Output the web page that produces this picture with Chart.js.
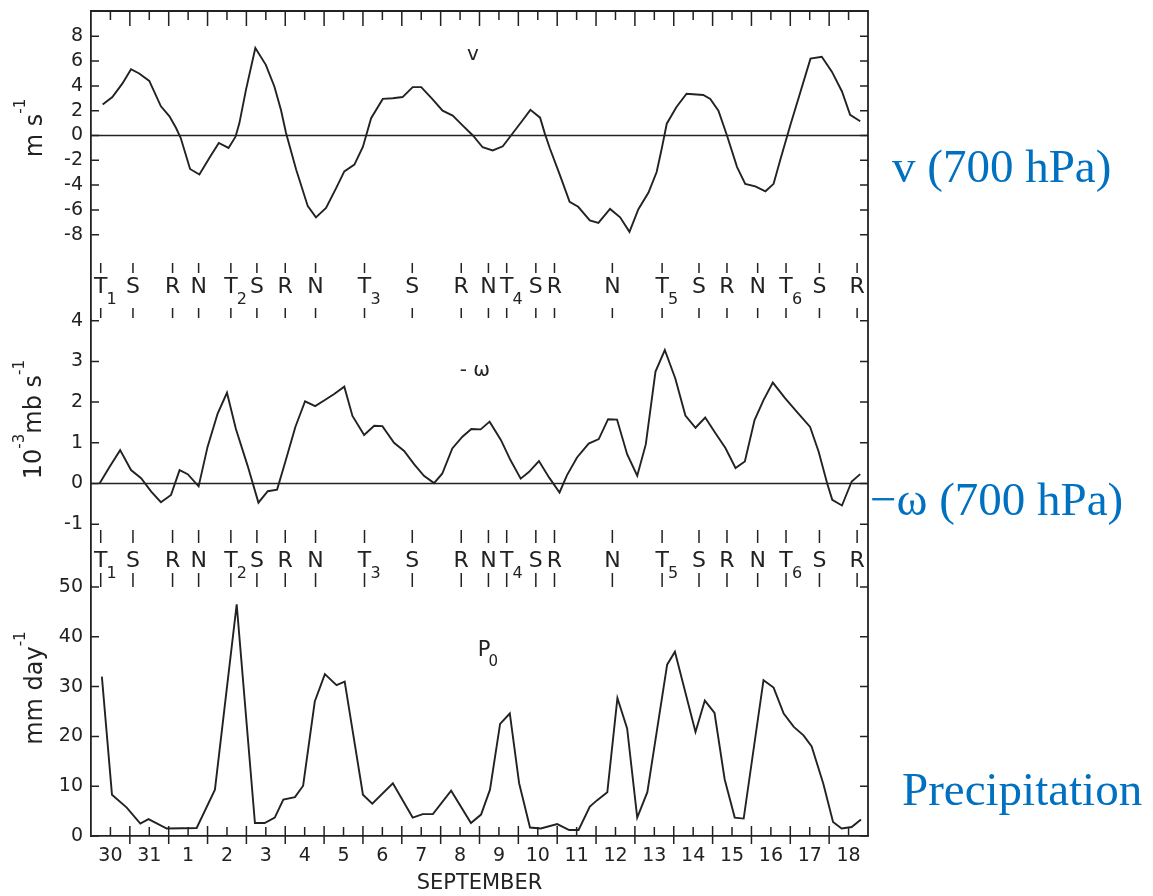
<!DOCTYPE html>
<html>
<head>
<meta charset="utf-8">
<script src="https://cdn.jsdelivr.net/npm/chart.js@4.4.1/dist/chart.umd.min.js"></script>
<style>
  html, body { margin: 0; padding: 0; background: #ffffff; }
  #wrap { position: relative; width: 1153px; height: 896px; }
</style>
</head>
<body>
<div id="wrap"><canvas id="chart" width="1153" height="896"></canvas></div>
<script>
// Time axis: days counted from 30 Aug 00Z; one label per day, centred at 12Z
const dayLabels = ['30','31','1','2','3','4','5','6','7','8','9','10','11','12','13','14','15','16','17','18'];

// Meridional wind v at 700 hPa (m s-1)
const vDays = [0.30,0.55,0.81,1.03,1.24,1.50,1.80,2.02,2.19,2.31,2.55,2.79,3.05,3.29,3.54,3.72,3.82,3.99,4.23,4.50,
  4.72,4.89,5.02,5.28,5.58,5.79,6.05,6.31,6.52,6.78,7.00,7.21,7.51,7.77,8.02,8.28,8.50,8.80,9.05,9.31,
  9.57,9.83,10.08,10.34,10.60,10.86,11.12,11.31,11.56,11.68,11.81,12.07,12.32,12.54,12.84,13.06,13.36,13.62,13.86,14.09,
  14.35,14.56,14.69,14.82,15.07,15.33,15.76,15.94,16.15,16.37,16.63,16.84,17.10,17.36,17.57,17.75,18.00,18.26,18.52,18.81,
  19.07,19.33,19.54,19.80];
const vWind = [2.5,3.1,4.2,5.35,5.0,4.4,2.35,1.55,0.6,-0.2,-2.7,-3.15,-1.8,-0.6,-1.0,-0.1,1.0,3.7,7.05,5.7,
  3.95,2.05,0.2,-2.75,-5.7,-6.6,-5.85,-4.25,-2.9,-2.35,-0.9,1.4,2.95,3.0,3.1,3.9,3.9,2.9,2.0,1.6,
  0.8,0.0,-0.95,-1.2,-0.87,0.2,1.27,2.07,1.44,0.17,-1.03,-3.2,-5.35,-5.75,-6.85,-7.05,-5.92,-6.6,-7.77,-5.95,
  -4.6,-2.95,-1.07,0.95,2.3,3.37,3.27,2.95,2.0,0.0,-2.55,-3.9,-4.1,-4.5,-3.9,-1.87,0.82,3.5,6.2,6.35,
  5.15,3.55,1.67,1.15];

// Vertical motion -omega at 700 hPa (10^-3 mb s-1)
const omegaDays = [0.22,0.48,0.75,1.03,1.29,1.55,1.80,2.06,2.28,2.49,2.77,3.00,3.26,3.50,3.73,4.03,4.31,4.55,4.79,5.00,
  5.26,5.51,5.77,6.00,6.26,6.52,6.73,7.03,7.29,7.50,7.80,8.06,8.32,8.57,8.83,9.04,9.30,9.56,9.79,10.03,
  10.26,10.55,10.80,11.06,11.27,11.53,11.79,12.06,12.25,12.51,12.81,13.07,13.31,13.54,13.80,14.06,14.28,14.53,14.77,15.04,
  15.30,15.56,15.81,16.07,16.33,16.59,16.83,17.08,17.31,17.55,17.87,18.17,18.51,18.73,18.95,19.08,19.33,19.58,19.80];
const omegaValues = [0.0,0.41,0.82,0.33,0.13,-0.2,-0.46,-0.28,0.33,0.23,-0.07,0.9,1.72,2.23,1.34,0.44,-0.47,-0.19,-0.15,0.53,
  1.39,2.02,1.9,2.04,2.2,2.38,1.66,1.19,1.42,1.41,1.0,0.8,0.47,0.19,0.01,0.24,0.86,1.15,1.34,1.33,
  1.52,1.07,0.57,0.12,0.28,0.55,0.15,-0.22,0.2,0.64,0.98,1.09,1.58,1.57,0.72,0.19,0.96,2.75,3.28,2.58,
  1.67,1.37,1.62,1.24,0.87,0.38,0.54,1.56,2.05,2.48,2.09,1.76,1.39,0.78,0.0,-0.4,-0.54,0.05,0.23];

// Precipitation P0 (mm day-1)
const precipDays = [0.28,0.54,0.92,1.27,1.48,1.95,2.72,3.19,3.75,4.22,4.47,4.73,4.95,5.25,5.46,5.76,6.02,6.32,6.53,7.00,
  7.24,7.77,8.28,8.54,8.80,9.27,9.78,10.04,10.27,10.53,10.78,11.02,11.30,11.58,12.00,12.31,12.55,12.84,13.03,13.29,
  13.55,13.80,14.06,14.32,14.83,15.03,15.56,15.80,16.05,16.31,16.57,16.80,17.31,17.57,17.83,18.09,18.34,18.55,18.85,19.10,
  19.32,19.58,19.82];
const precipValues = [32.0,8.3,5.7,2.5,3.4,1.5,1.6,9.3,46.5,2.6,2.6,3.7,7.3,7.8,10.1,27.0,32.5,30.3,31.0,8.3,
  6.5,10.6,3.7,4.4,4.4,9.1,2.6,4.3,9.3,22.5,24.6,10.6,1.7,1.5,2.4,1.2,1.2,5.9,7.2,8.8,
  27.7,21.6,3.7,8.8,34.4,37.0,20.9,27.2,24.7,11.4,3.7,3.5,31.3,29.8,24.6,21.9,20.2,18.0,10.5,2.8,
  1.5,1.8,3.3];

// Wave phase markers: trough, southerly, ridge, northerly
const phaseLetters = ['T','S','R','N','T','S','R','N','T','S','R','N','T','S','R','N','T','S','R','N','T','S','R'];
const phaseSubs    = ['1','','','','2','','','','3','','','','4','','','','5','','','','6','',''];
const phaseDays    = [0.25,1.08,2.10,2.77,3.60,4.27,5.00,5.78,7.04,8.27,9.53,10.23,10.70,11.45,11.93,13.42,14.70,15.65,16.37,17.16,17.89,18.75,19.72];

// Tick values for the three panels
const vTicks = [-8,-6,-4,-2,0,2,4,6,8];
const omegaTicks = [-1,0,1,2,3,4];
const precipTicks = [0,10,20,30,40,50];

const ink = '#222222';
const sans = "'DejaVu Sans', sans-serif";
const blue = '#0070c0';

function pairs(xs, ys) { return xs.map((d, i) => ({ x: d, y: ys[i] })); }

function drawRotatedTitle(ctx, parts, cx, cy) {
  ctx.save();
  ctx.translate(cx, cy);
  ctx.rotate(-Math.PI / 2);
  ctx.textAlign = 'left';
  ctx.textBaseline = 'alphabetic';
  let total = 0;
  const widths = parts.map(p => {
    ctx.font = p.sup ? `15px ${sans}` : `24px ${sans}`;
    const w = ctx.measureText(p.t).width;
    total += w;
    return w;
  });
  let x = -total / 2;
  parts.forEach((p, i) => {
    ctx.font = p.sup ? `15px ${sans}` : `24px ${sans}`;
    ctx.fillText(p.t, x, p.sup ? -17 : 0);
    x += widths[i];
  });
  ctx.restore();
}

const framePlugin = {
  id: 'panelFrame',
  afterDraw(chart) {
    const { ctx, chartArea: a, scales } = chart;
    const xs = scales.x;
    ctx.save();
    ctx.strokeStyle = ink;
    ctx.fillStyle = ink;

    // top and right edges of the frame
    ctx.lineWidth = 1.8;
    ctx.beginPath();
    ctx.moveTo(a.left, a.top);
    ctx.lineTo(a.right, a.top);
    ctx.lineTo(a.right, a.bottom);
    ctx.stroke();

    // half-day ticks along top and bottom edges
    ctx.lineWidth = 1.5;
    for (let h = 1; h < dayLabels.length * 2; h++) {
      const px = xs.getPixelForValue(h / 2);
      const midnight = h % 2 === 0;
      ctx.beginPath();
      ctx.moveTo(px, a.top);
      ctx.lineTo(px, a.top + (midnight ? 15 : 9));
      ctx.moveTo(px, a.bottom - (midnight ? 10 : 9));
      ctx.lineTo(px, a.bottom + (midnight ? 8 : 0));
      ctx.stroke();
    }

    // inward value ticks on both sides of each panel
    ['yV', 'yW', 'yP'].forEach(id => {
      const s = scales[id];
      s.ticks.forEach(t => {
        const py = s.getPixelForValue(t.value);
        ctx.beginPath();
        ctx.moveTo(a.left, py); ctx.lineTo(a.left + 8, py);
        ctx.moveTo(a.right - 8, py); ctx.lineTo(a.right, py);
        ctx.stroke();
      });
    });

    // zero lines for v and -omega
    ctx.lineWidth = 1.4;
    ['yV', 'yW'].forEach(id => {
      const py = scales[id].getPixelForValue(0);
      ctx.beginPath();
      ctx.moveTo(a.left, py); ctx.lineTo(a.right, py);
      ctx.stroke();
    });

    // phase marker rows between the panels
    const rows = [
      { c: scales.yV.bottom - 33, up: [-24, -14], down: [21, 31] },
      { c: scales.yW.bottom - 25, up: [-31, -18], down: [12, 26] }
    ];
    ctx.lineWidth = 1.5;
    rows.forEach(r => {
      phaseDays.forEach((d, i) => {
        const px = xs.getPixelForValue(d);
        ctx.beginPath();
        ctx.moveTo(px, r.c + r.up[0]); ctx.lineTo(px, r.c + r.up[1]);
        ctx.moveTo(px, r.c + r.down[0]); ctx.lineTo(px, r.c + r.down[1]);
        ctx.stroke();
        ctx.font = `22px ${sans}`;
        ctx.textAlign = 'center';
        ctx.textBaseline = 'middle';
        ctx.fillText(phaseLetters[i], px, r.c);
        if (phaseSubs[i]) {
          ctx.font = `16px ${sans}`;
          ctx.fillText(phaseSubs[i], px + 11, r.c + 13);
        }
      });
    });

    // series names inside the panels
    ctx.textAlign = 'center';
    ctx.textBaseline = 'middle';
    ctx.font = `20px ${sans}`;
    ctx.fillText('v', xs.getPixelForValue(9.83), scales.yV.getPixelForValue(6.5));
    ctx.fillText('- \u03c9', xs.getPixelForValue(9.88), scales.yW.getPixelForValue(2.76));
    const pX = xs.getPixelForValue(10.12), pY = scales.yP.getPixelForValue(37.3);
    ctx.font = `21px ${sans}`;
    ctx.fillText('P', pX, pY);
    ctx.font = `15px ${sans}`;
    ctx.fillText('0', pX + 9, pY + 12);

    // axis titles
    drawRotatedTitle(ctx, [{ t: 'm s' }, { t: '-1', sup: true }], 42, scales.yV.getPixelForValue(0.6));
    drawRotatedTitle(ctx, [{ t: '10' }, { t: '-3', sup: true }, { t: 'mb s' }, { t: '-1', sup: true }], 41, scales.yW.getPixelForValue(1.57));
    drawRotatedTitle(ctx, [{ t: 'mm day' }, { t: '-1', sup: true }], 42, scales.yP.getPixelForValue(29.7));

    // variable names beside the panels
    ctx.fillStyle = blue;
    ctx.font = "47px 'Liberation Serif', serif";
    ctx.textAlign = 'left';
    ctx.textBaseline = 'alphabetic';
    ctx.fillText('v (700 hPa)', 892, 182);
    ctx.fillText('\u2212\u03c9 (700 hPa)', 870, 515);
    ctx.fillText('Precipitation', 902, 805);
    ctx.restore();
  }
};

function yScale(ticks, min, max, weight, stackWeight) {
  return {
    type: 'linear',
    position: 'left',
    stack: 'panels',
    stackWeight: stackWeight,
    weight: weight,
    min: min,
    max: max,
    afterBuildTicks: s => { s.ticks = ticks.map(v => ({ value: v })); },
    afterFit: s => { s.width = 91; s.paddingTop = 0; s.paddingBottom = 0; },
    ticks: { font: { family: sans, size: 19 }, color: ink, padding: 8, autoSkip: false, callback: v => String(v) },
    grid: { display: false, drawTicks: false },
    border: { display: true, color: ink, width: 1.8 }
  };
}

const lineStyle = { borderColor: ink, borderWidth: 1.9, pointRadius: 0, tension: 0, fill: false };

Chart.defaults.font.family = sans;
Chart.defaults.color = ink;

new Chart(document.getElementById('chart'), {
  type: 'line',
  data: {
    datasets: [
      Object.assign({ label: 'v', data: pairs(vDays, vWind), yAxisID: 'yV' }, lineStyle),
      Object.assign({ label: '-omega', data: pairs(omegaDays, omegaValues), yAxisID: 'yW' }, lineStyle),
      Object.assign({ label: 'P0', data: pairs(precipDays, precipValues), yAxisID: 'yP' }, lineStyle)
    ]
  },
  options: {
    responsive: false,
    animation: false,
    devicePixelRatio: 1,
    layout: { padding: { top: 11, right: 285, bottom: 0, left: 0 } },
    plugins: { legend: { display: false }, tooltip: { enabled: false } },
    scales: {
      x: {
        type: 'linear',
        min: 0,
        max: dayLabels.length,
        afterBuildTicks: s => { s.ticks = dayLabels.map((_, i) => ({ value: i + 0.5 })); },
        afterFit: s => { s.height = 60; s.paddingLeft = 0; s.paddingRight = 0; },
        ticks: {
          font: { family: sans, size: 19 },
          color: ink,
          padding: 9,
          autoSkip: false,
          maxRotation: 0,
          callback: (v, i) => dayLabels[i]
        },
        grid: { display: false, drawTicks: false },
        border: { display: true, color: ink, width: 1.8 },
        title: { display: true, text: 'SEPTEMBER', font: { family: sans, size: 21 }, color: ink, padding: { top: 0, bottom: 0 } }
      },
      yV: yScale(vTicks, -14.88, 10.04, 3, 309),
      yW: yScale(omegaTicks, -2.518, 4.017, 2, 266),
      yP: yScale(precipTicks, 0, 50.2, 1, 250)
    }
  },
  plugins: [framePlugin]
});
</script>
</body>
</html>
